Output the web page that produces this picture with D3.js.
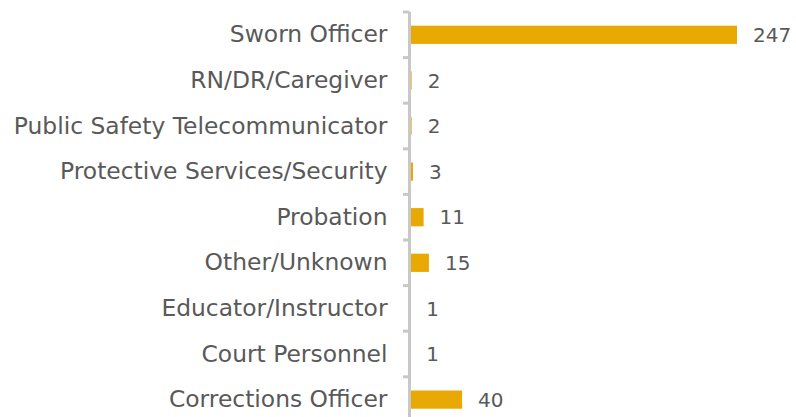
<!DOCTYPE html>
<html>
<head>
<meta charset="utf-8">
<script src="https://cdn.jsdelivr.net/npm/d3@7"></script>
<style>
  body { margin: 0; background: #fff; }
  text { font-family: "DejaVu Sans", sans-serif; fill: #595959; }
</style>
</head>
<body>
<div id="chart"></div>
<script>
var svgWidth = 796;
var svgHeight = 417;

// categories, top to bottom as drawn
var categories = [
  "Sworn Officer",
  "RN/DR/Caregiver",
  "Public Safety Telecommunicator",
  "Protective Services/Security",
  "Probation",
  "Other/Unknown",
  "Educator/Instructor",
  "Court Personnel",
  "Corrections Officer"
];
var counts = [247, 2, 2, 3, 11, 15, 1, 1, 40];

var data = categories.map(function(c, i) { return { cat: c, n: counts[i] }; });

var svg = d3.select("#chart")
  .append("svg")
  .attr("width", svgWidth)
  .attr("height", svgHeight);

var xScale = d3.scaleLinear()
  .domain([0, 247])
  .range([409, 737]);

var yScale = d3.scaleBand()
  .domain(categories)
  .range([12, 12 + 45.6 * categories.length])
  .paddingInner(0.6)
  .paddingOuter(0.3);

// bars
svg.selectAll("rect.bar")
  .data(data)
  .enter()
  .append("rect")
  .attr("class", "bar")
  .attr("x", xScale(0))
  .attr("y", d => yScale(d.cat))
  .attr("width", d => xScale(d.n) - xScale(0))
  .attr("height", yScale.bandwidth())
  .attr("fill", "#e8a904");

// axis
var fontSize = 20;
var leftAxis = d3.axisLeft(yScale).tickSize(0).tickPadding(22);
var axisG = svg.append("g")
  .attr("transform", "translate(409.5,0)")
  .call(leftAxis);
axisG.select(".domain").remove();
axisG.selectAll("text")
  .attr("font-size", fontSize + "px")
  .attr("font-family", "DejaVu Sans")
  .style("fill", "#595959");

// fit font size so the longest label spans like the reference (~374px)
var longest = axisG.selectAll("text").filter(d => d === "Public Safety Telecommunicator").node();
fontSize = fontSize * 374 / longest.getComputedTextLength();
axisG.selectAll("text").attr("font-size", fontSize + "px");

// axis line + boundary ticks (drawn over the bar bases)
var step = yScale.step();
var bounds = d3.range(categories.length + 1).map(i => 12 + i * step);
svg.append("line")
  .attr("x1", 409.5).attr("x2", 409.5)
  .attr("y1", 12).attr("y2", svgHeight)
  .attr("stroke", "#c8c8c8")
  .attr("stroke-width", 3);
svg.selectAll("line.tick")
  .data(bounds)
  .enter()
  .append("line")
  .attr("class", "tick")
  .attr("x1", 403).attr("x2", 409.5)
  .attr("y1", d => d).attr("y2", d => d)
  .attr("stroke", "#c8c8c8")
  .attr("stroke-width", 3);

// value labels
svg.selectAll("text.val")
  .data(data)
  .enter()
  .append("text")
  .attr("class", "val")
  .attr("x", d => xScale(d.n) + 16)
  .attr("y", d => yScale(d.cat) + yScale.bandwidth() / 2)
  .attr("dy", "0.36em")
  .attr("font-size", "20px")
  .text(d => d.n);
</script>
</body>
</html>
